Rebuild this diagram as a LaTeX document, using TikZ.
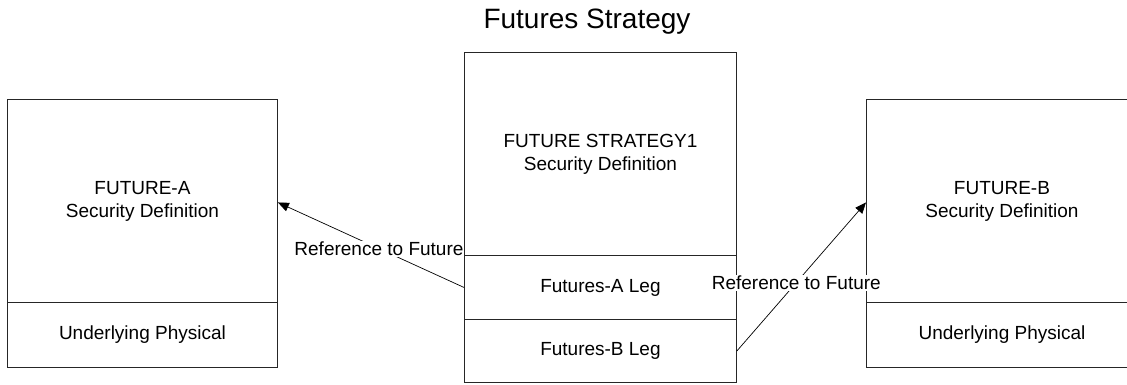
\documentclass[tikz,border=0pt]{standalone}
\usepackage{fontspec}
\setmainfont{Liberation Sans}
\usetikzlibrary{arrows.meta}
\begin{document}
\begin{tikzpicture}[x=1pt,y=-1pt,
  cell/.style={draw=black!85,line width=0.9pt,rectangle,inner sep=0pt,anchor=north west,
    align=center,font=\fontsize{19}{23}\selectfont,fill=white},
  conn/.style={draw=black,line width=0.7pt,-{Triangle[length=11pt,width=9pt]}},
  lab/.style={fill=white,inner sep=1pt,font=\fontsize{19}{23}\selectfont},
  ttl/.style={font=\fontsize{28}{32}\selectfont}]
\fill[white] (0,0) rectangle (1127,384);
\clip (0,0) rectangle (1127,384);
\useasboundingbox (0,0) rectangle (1127,384);
\node[ttl] (title) at (587,22) {Futures Strategy};
% left
\node[cell,minimum width=270,minimum height=203] (fa) at (7,99) {FUTURE-A\\Security Definition};
\node[cell,minimum width=270,minimum height=65] (fau) at (7,302) {Underlying Physical};
% center
\node[cell,minimum width=272,minimum height=203] (fs) at (464,52) {FUTURE STRATEGY1\\Security Definition};
\node[cell,minimum width=272,minimum height=64] (legA) at (464,255) {Futures-A Leg};
\node[cell,minimum width=272,minimum height=63] (legB) at (464,319) {Futures-B Leg};
% right
\node[cell,minimum width=271,minimum height=203] (fb) at (866,99) {FUTURE-B\\Security Definition};
\node[cell,minimum width=271,minimum height=65] (fbu) at (866,302) {Underlying Physical};
% connectors
\draw[conn] (legA.west) -- node[lab,pos=0.457] (l1) {Reference to Future} ([yshift=-1.5]fa.east);
\draw[conn] (legB.east) -- node[lab,pos=0.46] (l2) {Reference to Future} ([yshift=-1.5]fb.west);
\end{tikzpicture}
\end{document}
